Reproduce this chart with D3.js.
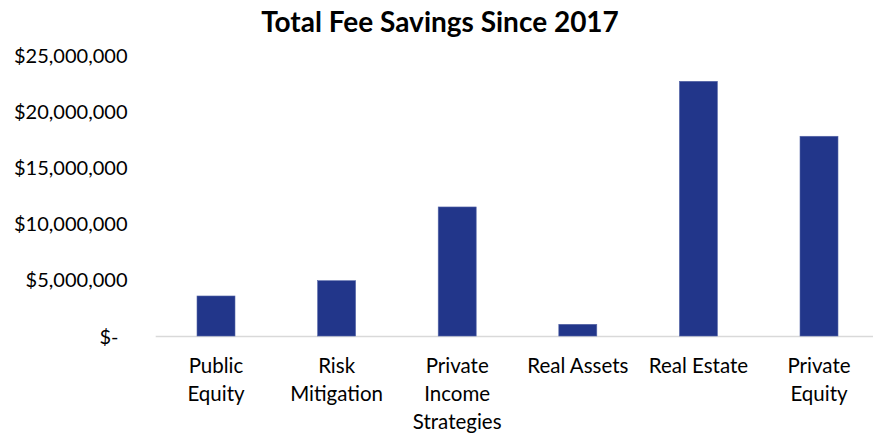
<!DOCTYPE html>
<html>
<head>
<meta charset="utf-8">
<script src="https://cdn.jsdelivr.net/npm/d3@7"></script>
<style>
  html, body { margin: 0; padding: 0; background: #fff; }
  svg { display: block; font-family: Lato, "Open Sans", sans-serif; }
</style>
</head>
<body>
<svg id="chart" width="873" height="435"></svg>
<script>
// Fee savings by asset class (USD)
const categories = [
  ["Public", "Equity"],
  ["Risk", "Mitigation"],
  ["Private", "Income", "Strategies"],
  ["Real Assets"],
  ["Real Estate"],
  ["Private", "Equity"]
];
const savings = [3560000, 4920000, 11480000, 1040000, 22660000, 17770000];
const yTicks = [0, 5000000, 10000000, 15000000, 20000000, 25000000];

const svg = d3.select("#chart");
const plotLeft = 155.7;
const plotTop = 55;
const plotBottom = 336;
const step = 120.6;

const x = d3.scaleBand()
  .domain(d3.range(categories.length))
  .range([plotLeft, plotLeft + step * categories.length])
  .paddingInner(0.685)
  .paddingOuter(0.3425);

const y = d3.scaleLinear()
  .domain([0, 25000000])
  .range([plotBottom, plotTop]);

svg.append("text")
  .attr("x", 440)
  .attr("y", 32)
  .attr("text-anchor", "middle")
  .attr("font-size", 28)
  .attr("font-weight", 700)
  .attr("fill", "#000")
  .text("Total Fee Savings Since 2017");

// y axis labels only
const fmt = d => d === 0 ? "$-" : "$" + d3.format(",")(d);
const yAxis = d3.axisLeft(y).tickValues(yTicks).tickFormat(fmt).tickSize(0).tickPadding(0);
const gy = svg.append("g").attr("transform", "translate(127.5,0)").call(yAxis);
gy.select(".domain").remove();
gy.selectAll("text")
  .attr("font-size", 20)
  .attr("fill", "#000")
  .attr("font-family", "Lato, 'Open Sans', sans-serif")
  .attr("dy", "0.35em")
  .attr("dx", d => d === 0 ? -9 : 0);

// baseline
svg.append("line")
  .attr("x1", plotLeft)
  .attr("x2", 873)
  .attr("y1", plotBottom + 0.5)
  .attr("y2", plotBottom + 0.5)
  .attr("stroke", "#d9d9d9")
  .attr("stroke-width", 1.5);

// bars
svg.append("g").selectAll("rect")
  .data(savings)
  .join("rect")
  .attr("x", (d, i) => x(i))
  .attr("width", x.bandwidth())
  .attr("y", d => y(d))
  .attr("height", d => plotBottom - y(d))
  .attr("fill", "#22368a")
  .attr("stroke", "#5666a8")
  .attr("stroke-width", 0.6);

// category labels
const labels = svg.append("g").selectAll("text")
  .data(categories)
  .join("text")
  .attr("text-anchor", "middle")
  .attr("font-size", 20.5)
  .attr("fill", "#000")
  .attr("transform", (d, i) => `translate(${x(i) + x.bandwidth() / 2},373)`);
labels.selectAll("tspan")
  .data(d => d)
  .join("tspan")
  .attr("x", 0)
  .attr("y", (d, i) => i * 28)
  .text(d => d);
</script>
</body>
</html>
